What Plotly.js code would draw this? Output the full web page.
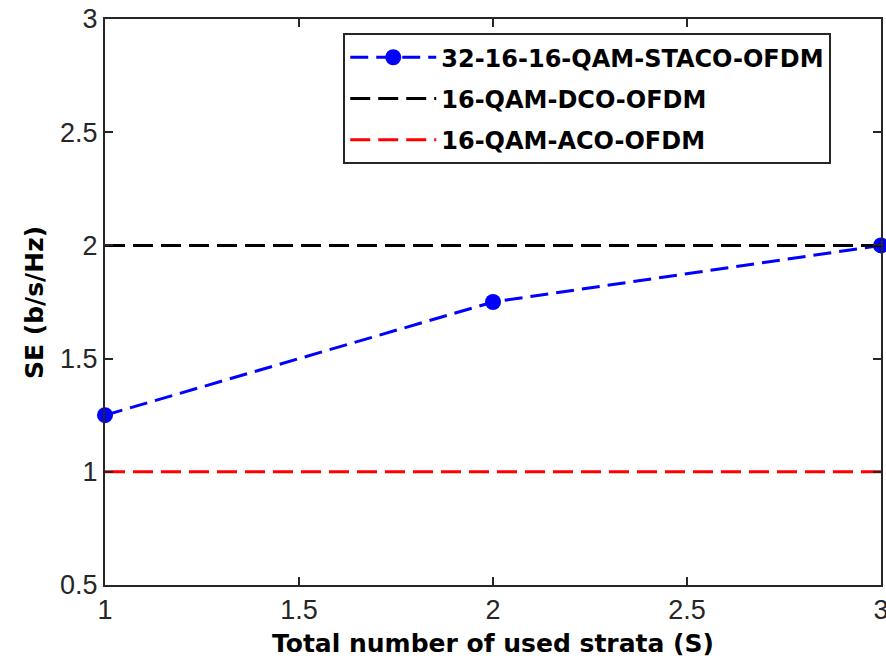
<!DOCTYPE html>
<html>
<head>
<meta charset="utf-8">
<script src="https://cdn.plot.ly/plotly-3.0.1.min.js"></script>
<style>html,body{margin:0;padding:0;background:#fff;}#chart{width:886px;height:661px;}</style>
</head>
<body>
<div id="chart"></div>
<script>
const strata = [1, 2, 3];
const stacoSE = [1.25, 1.75, 2];
const refX = [1, 3];
const dcoSE = [2, 2];
const acoSE = [1, 1];
const names = ['32-16-16-QAM-STACO-OFDM', '16-QAM-DCO-OFDM', '16-QAM-ACO-OFDM'];
const xTicks = [1, 1.5, 2, 2.5, 3];
const yTicks = [0.5, 1, 1.5, 2, 2.5, 3];
const xTitle = 'Total number of used strata (S)';
const yTitle = 'SE (b/s/Hz)';

const traces = [
  {x: strata, y: stacoSE, name: names[0], mode: 'lines+markers', legendgroup: 'a', cliponaxis: false,
   line: {color: '#0000ff', width: 3, dash: '18px,8px'}, marker: {color: '#0000ff', size: 16}},
  {x: refX, y: dcoSE, name: names[1], mode: 'lines', legendgroup: 'b',
   line: {color: '#000000', width: 3, dash: '20px,8px'}},
  {x: refX, y: acoSE, name: names[2], mode: 'lines', legendgroup: 'c',
   line: {color: '#ff0000', width: 3, dash: '20px,8px'}}
];

const axisCommon = {
  showgrid: false, zeroline: false, showline: true, linecolor: '#262626', linewidth: 2,
  mirror: 'allticks', ticks: 'inside', ticklen: 8, tickwidth: 2, tickcolor: '#262626',
  ticklabeloverflow: 'allow',
  tickfont: {family: 'Liberation Sans, Arial, sans-serif', size: 27, color: '#262626'}
};

const titleFont = {family: 'DejaVu Sans, sans-serif', size: 25, color: '#000', weight: 'bold'};

const layout = {
  width: 886, height: 661,
  margin: {l: 105, r: 5, t: 19, b: 76},
  paper_bgcolor: '#ffffff', plot_bgcolor: '#ffffff',
  showlegend: true,
  xaxis: Object.assign({}, axisCommon, {
    range: [1, 3], tickvals: xTicks, ticktext: xTicks.map(String)
  }),
  yaxis: Object.assign({}, axisCommon, {
    range: [0.5, 3], tickvals: yTicks, ticktext: yTicks.map(String)
  }),
  annotations: [
    {text: xTitle, xref: 'paper', yref: 'paper', x: 0.5, y: -0.1025,
     xanchor: 'center', yanchor: 'middle', showarrow: false, font: titleFont},
    {text: yTitle, xref: 'paper', yref: 'paper', x: -0.0915, y: 0.5, textangle: -90,
     xanchor: 'center', yanchor: 'middle', showarrow: false, font: titleFont}
  ],
  legend: {
    x: 0.307, y: 0.975, xanchor: 'left', yanchor: 'top',
    bgcolor: '#ffffff', bordercolor: '#262626', borderwidth: 2,
    font: {family: 'DejaVu Sans, sans-serif', size: 24, color: '#000', weight: 'bold'},
    itemwidth: 86, tracegroupgap: 7
  }
};

Plotly.newPlot('chart', traces, layout, {displayModeBar: false, staticPlot: true});
</script>
</body>
</html>
